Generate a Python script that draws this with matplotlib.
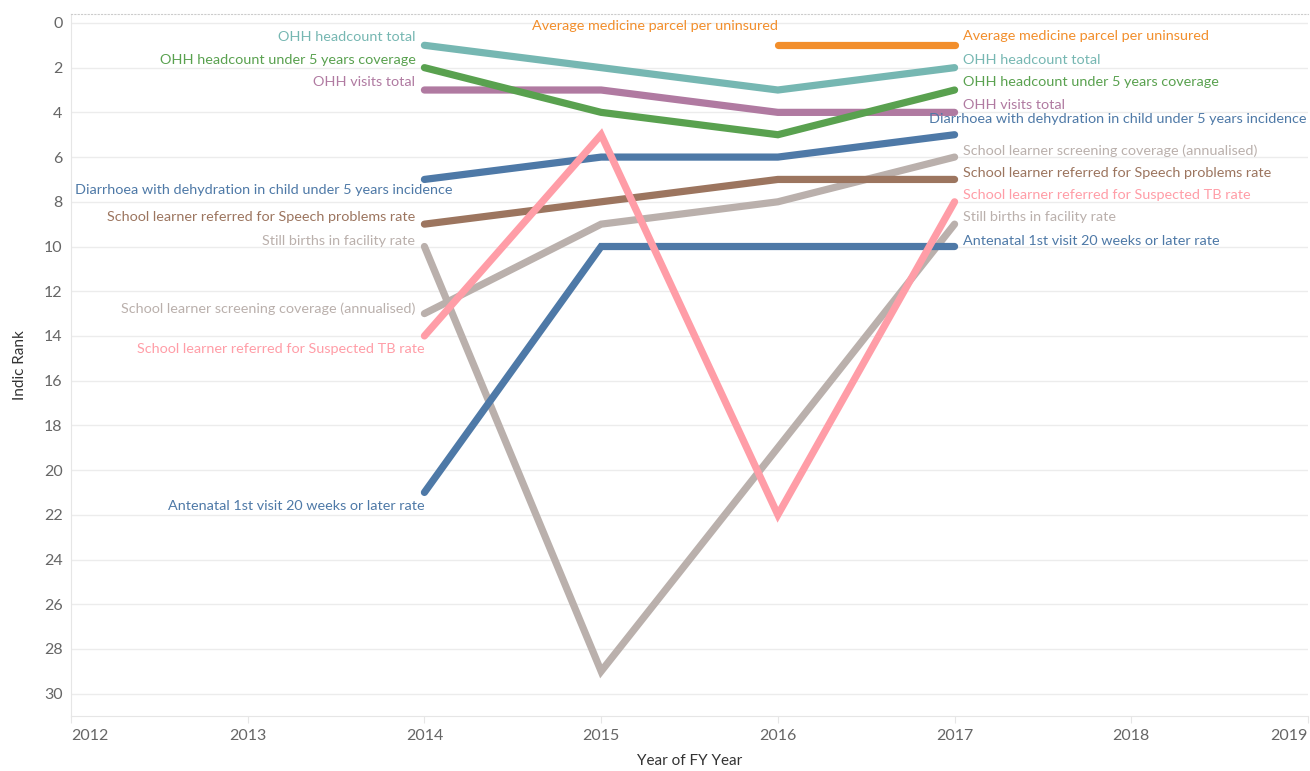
import numpy as np
import matplotlib
matplotlib.use("Agg")
import matplotlib.pyplot as plt

plt.rcParams['font.family'] = ['Lato', 'DejaVu Sans']

years = [2014, 2015, 2016, 2017]
nan = np.nan

names = [
    "OHH headcount total",
    "OHH headcount under 5 years coverage",
    "OHH visits total",
    "Average medicine parcel per uninsured",
    "Diarrhoea with dehydration in child under 5 years incidence",
    "School learner referred for Speech problems rate",
    "School learner screening coverage (annualised)",
    "Still births in facility rate",
    "School learner referred for Suspected TB rate",
    "Antenatal 1st visit 20 weeks or later rate",
]
ohh_headcount = [1, 2, 3, 2]
ohh_under5 = [2, 4, 5, 3]
ohh_visits = [3, 3, 4, 4]
avg_medicine = [nan, nan, 1, 1]
diarrhoea = [7, 6, 6, 5]
speech = [9, 8, 7, 7]
screening = [13, 9, 8, 6]
still_births = [10, 29, 19, 9]
suspected_tb = [14, 5, 22, 8]
antenatal = [21, 10, 10, 10]
series = [ohh_headcount, ohh_under5, ohh_visits, avg_medicine, diarrhoea,
          speech, screening, still_births, suspected_tb, antenatal]
colors = ["#76b7b2", "#59a14f", "#b07aa1", "#f28e2b", "#4e79a7",
          "#9c755f", "#bab0ac", "#bab0ac", "#ff9da7", "#4e79a7"]

# label placement: (dx pixels, dy data, ha)
left_pos = {
    0: (-9, -0.35, 'right'), 1: (-9, -0.35, 'right'), 2: (-9, -0.35, 'right'),
    4: (28, 0.47, 'right'), 5: (-9, -0.3, 'right'), 6: (-9, -0.2, 'right'),
    7: (-9, -0.25, 'right'), 8: (0, 0.6, 'right'), 9: (0, 0.62, 'right'),
}
right_pos = {
    0: (8, -0.35, 'left'), 1: (8, -0.36, 'left'), 2: (8, -0.33, 'left'),
    3: (8, -0.4, 'left'), 4: (None, -0.7, 'right'), 5: (8, -0.3, 'left'),
    6: (8, -0.3, 'left'), 7: (8, -0.3, 'left'), 8: (8, -0.3, 'left'),
    9: (8, -0.25, 'left'),
}

fig = plt.figure(figsize=(13.1, 7.71), dpi=100)
ax = fig.add_axes([71/1310, 1 - 716/771, (1308-71)/1310, (716-14)/771])

order = [7, 6, 5, 9, 4, 8, 2, 1, 0, 3]
for i in order:
    ax.plot(years, series[i], color=colors[i], lw=5.2, solid_capstyle='round',
            solid_joinstyle='miter', zorder=3)

fs = 10.4
for i, vals in enumerate(series):
    v = np.array(vals, dtype=float)
    idx = np.where(~np.isnan(v))[0]
    first, last = idx[0], idx[-1]
    if i == 3:
        ax.annotate(names[i], (years[first], v[first] - 0.85), xytext=(0, 0),
                    textcoords='offset pixels', ha='right', va='center',
                    color=colors[i], fontsize=fs, zorder=4)
    else:
        dx, dy, ha = left_pos[i]
        ax.annotate(names[i], (years[first], v[first] + dy), xytext=(dx, 0),
                    textcoords='offset pixels', ha=ha, va='center',
                    color=colors[i], fontsize=fs, zorder=4)
    dx, dy, ha = right_pos[i]
    if dx is None:
        ax.annotate(names[i], (2019, v[last] + dy), xytext=(-2, 0),
                    textcoords='offset pixels', ha='right', va='center',
                    color=colors[i], fontsize=fs, zorder=4)
    else:
        ax.annotate(names[i], (years[last], v[last] + dy), xytext=(dx, 0),
                    textcoords='offset pixels', ha=ha, va='center',
                    color=colors[i], fontsize=fs, zorder=4)

ax.set_xlim(2012, 2019)
ax.set_ylim(31, -0.4)
ax.set_yticks(range(0, 31, 2))
ax.set_xticks(range(2012, 2020))
ax.grid(axis='y', color='#ececec', lw=1, zorder=0)
ax.tick_params(axis='y', length=0, labelsize=11.5, labelcolor='#666666', pad=6)
ax.tick_params(axis='x', length=5, color='#e6e6e6', labelsize=11.5,
               labelcolor='#666666', pad=4)
xl = ax.get_xticklabels()
xl[0].set_ha('left')
xl[-1].set_ha('right')
ax.spines['right'].set_visible(False)
ax.spines['top'].set_color('#cccccc')
ax.spines['top'].set_linestyle((0, (1, 2)))
ax.spines['top'].set_linewidth(0.8)
ax.spines['left'].set_color('#e6e6e6')
ax.spines['bottom'].set_color('#e6e6e6')

ax.set_ylabel("Indic Rank", fontsize=11, color='#333333', labelpad=12)
ax.set_xlabel("Year of FY Year", fontsize=11, color='#333333', labelpad=8)

fig.savefig("out.png", dpi=100)
